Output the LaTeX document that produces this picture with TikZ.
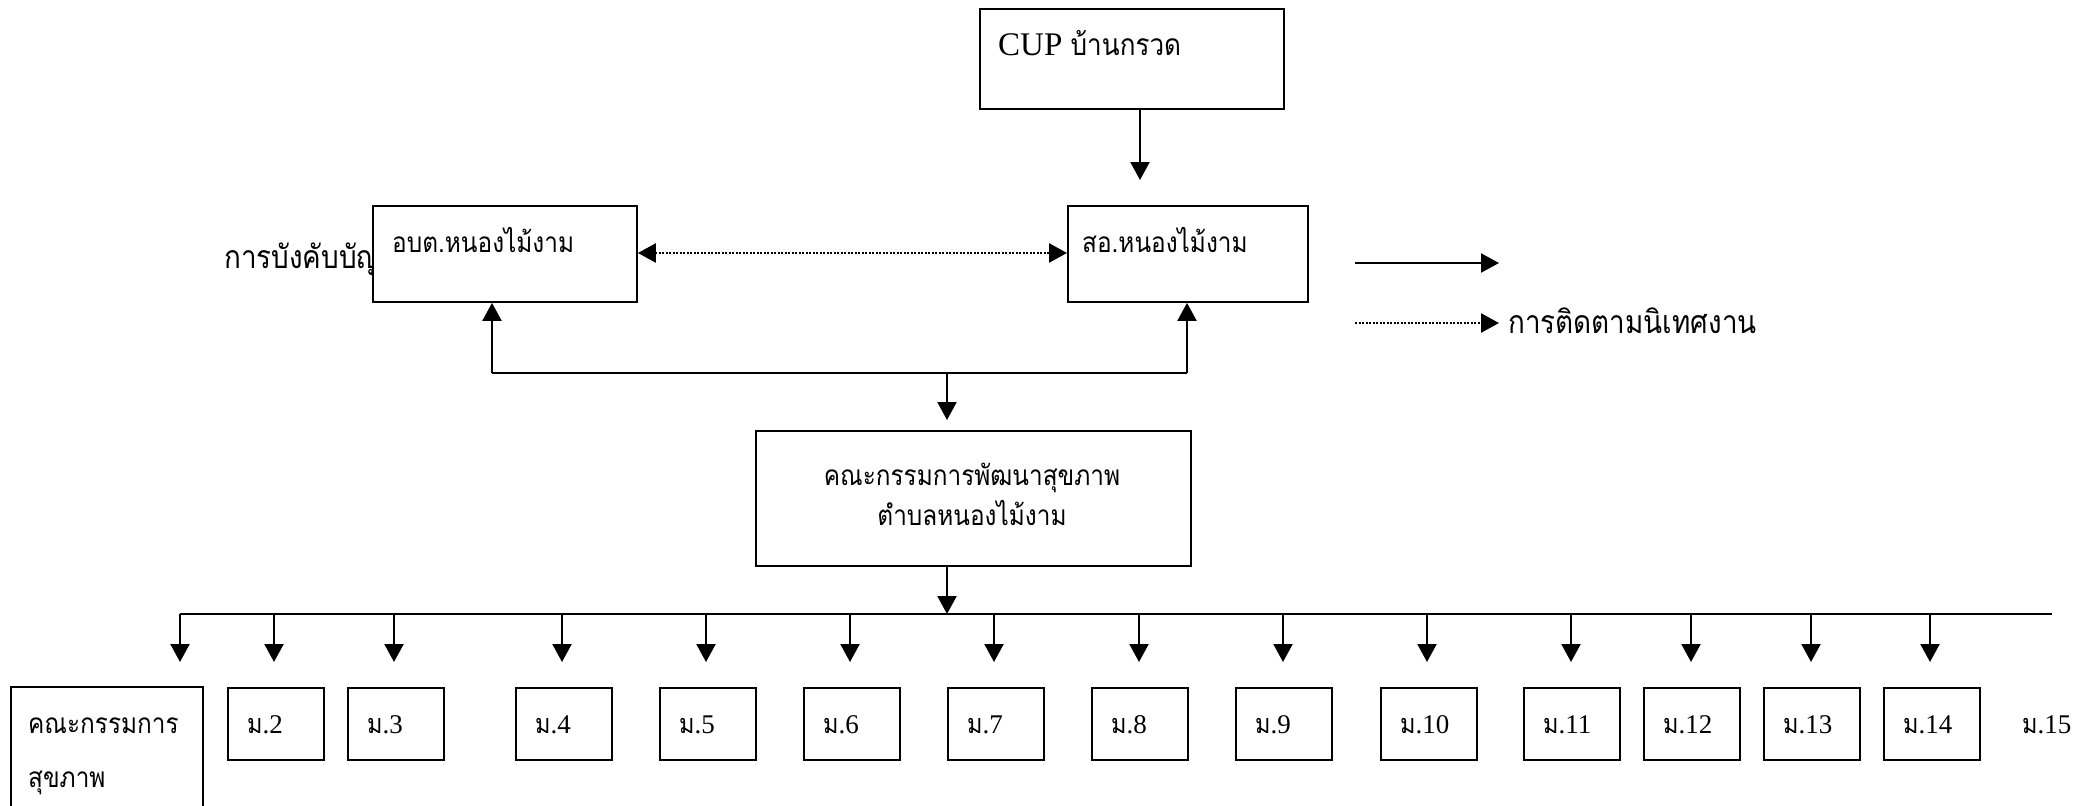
\documentclass[tikz,border=0pt]{standalone}
\usepackage{fontspec}
\setmainfont{Liberation Serif}
\newfontfamily\thfont[Script=Thai,FakeStretch=0.87]{Loma}
\usetikzlibrary{arrows.meta}
\tikzset{
  box/.style={draw, line width=1.9pt, fill=white, inner sep=0pt, anchor=north west},
  conn/.style={line width=2.2pt},
  tip/.tip={Triangle[length=18pt,width=19pt]},
  arr/.style={conn, -tip},
  darr/.style={line width=2.6pt, dash pattern=on 2pt off 1.5pt, tip-tip},
  dlarr/.style={line width=2.6pt, dash pattern=on 2pt off 1.5pt, -tip},
  thsm/.style={font=\thfont\fontsize{28}{32}\selectfont, inner sep=0pt, anchor=base west},
  thbig/.style={font=\thfont\fontsize{32}{36}\selectfont, inner sep=0pt, anchor=base west},
  mlab/.style={font=\fontsize{27}{32}\selectfont, inner sep=0pt, anchor=base west},
}
\newcommand{\mm}[1]{{\thfont ม}.#1}
\begin{document}
\begin{tikzpicture}[x=1pt,y=-1pt]
\useasboundingbox (0,0) rectangle (2089,806);
% CUP
\node[box, minimum width=304pt, minimum height=100pt] (cup) at (979,8) {};
\node[font=\fontsize{33}{38}\selectfont, inner sep=0pt, anchor=base west] (cuptxt) at (998,55) {CUP {\thfont\fontsize{30}{34}\selectfont บ้านกรวด}};
% left label behind box
\node[thbig] (cmd) at (224,268) {การบังคับบัญ};
% top boxes
\node[box, minimum width=264pt, minimum height=96pt] (obt) at (372,205) {};
\node[thsm] (obttxt) at (392,252) {อบต.หนองไม้งาม};
\node[box, minimum width=240pt, minimum height=96pt] (so) at (1067,205) {};
\node[thsm] (sotxt) at (1082,252) {สอ.หนองไม้งาม};
% CUP -> so
\coordinate (cupsrc) at (1140,108);
\coordinate (cuptip) at (1140,180);
\draw[arr] (cupsrc) -- (cuptip);
% dotted double arrow
\draw[darr] (obt.east |- 0,253) -- (so.west |- 0,253);
% committee
\node[box, minimum width=435pt, minimum height=135pt] (com) at (755,430) {};
\node[thsm, anchor=base] (com1) at (972,485) {คณะกรรมการพัฒนาสุขภาพ};
\node[thsm, anchor=base] (com2) at (972,525) {ตำบลหนองไม้งาม};
% connection up arrows
\coordinate (hl) at (492,373);
\coordinate (hr) at (1187,373);
\coordinate (hm) at (947,373);
\coordinate (hmt) at (947,420);
\draw[conn] (hl) -- (hr);
\draw[arr] (hl) -- (obt.south -| hl);
\draw[arr] (hr) -- (so.south -| hr);
\draw[arr] (hm) -- (hmt);
% legend
\coordinate (l1a) at (1355,263);
\coordinate (l1b) at (1499,263);
\draw[arr] (l1a) -- (l1b);
\coordinate (l2a) at (1355,323);
\coordinate (l2b) at (1499,323);
\draw[dlarr] (l2a) -- (l2b);
\node[thbig] (legtxt) at (1508,333) {การติดตามนิเทศงาน};
% committee -> bus
\coordinate (bus0) at (180,614);
\coordinate (bus1) at (2052,614);
\coordinate (busm) at (947,614);
\draw[arr] (com.south -| busm) -- (busm);
\draw[conn] (bus0) -- (bus1);
% bottom-left open box
\draw[line width=1.9pt] (11,806) -- (11,687) coordinate (bl) -- (203,687) -- (203,806);
\node[thsm] (b1a) at (28,733) {คณะกรรมการ};
\node[thsm] (b1b) at (28,787) {สุขภาพ};
% branch arrows
\foreach \x/\n in {180/a1,274/a2,394/a3,562/a4,706/a5,850/a6,994/a7,1139/a8,1283/a9,1427/a10,1571/a11,1691/a12,1811/a13,1930/a14}{
  \coordinate (t\n) at (\x,614);
  \coordinate (b\n) at (\x,662);
  \draw[arr] (t\n) -- (b\n);
}
% m boxes
\foreach \x/\k in {227/2,347/3,515/4,659/5,803/6,947/7,1091/8,1235/9,1380/10,1523/11,1643/12,1763/13,1883/14}{
  \node[box, minimum width=96pt, minimum height=72pt] (m\k) at (\x,687) {};
  \node[mlab] (mt\k) at (\x+20,733) {\mm{\k}};
}
\node[mlab] (mt15) at (2022,733) {\mm{15}};
\end{tikzpicture}
\end{document}
